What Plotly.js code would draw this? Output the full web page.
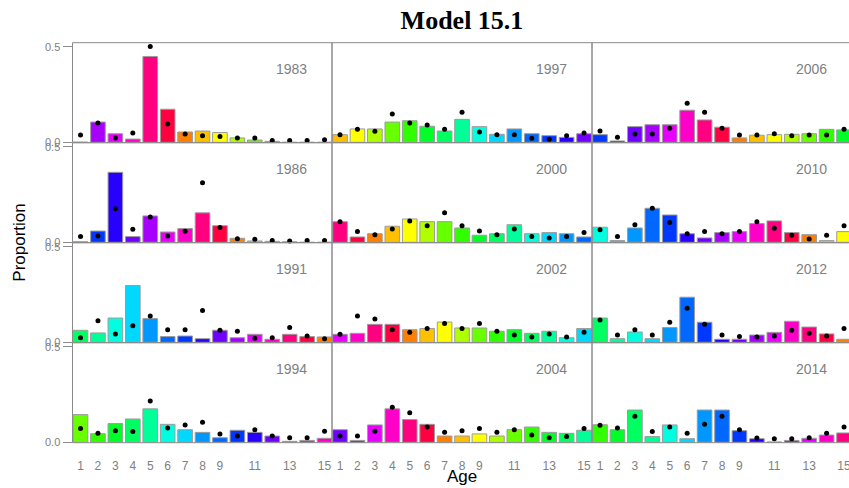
<!DOCTYPE html>
<html>
<head>
<meta charset="utf-8">
<script src="https://cdn.plot.ly/plotly-3.0.1.min.js"></script>
<style>
  html, body { margin: 0; padding: 0; background: #ffffff; overflow: hidden; }
  #chart { width: 849px; height: 488px; }
</style>
</head>
<body>
<div id="chart"></div>
<script>
// Ages on the x axis and the tick labels shown under the bottom row
const ages = [1, 2, 3, 4, 5, 6, 7, 8, 9, 10, 11, 12, 13, 14, 15];
const tickAges = [1, 2, 3, 4, 5, 6, 7, 8, 9, 11, 13, 15];
const tickLabels = ['1', '2', '3', '4', '5', '6', '7', '8', '9', '11', '13', '15'];

// Panel years, row by row (left to right, top to bottom)
const panelYears = [1983, 1997, 2006, 1986, 2000, 2010, 1991, 2002, 2012, 1994, 2004, 2014];

// Observed proportion at age (bars) and model proportion at age (points)
const obs1983 = [0.001, 0.106, 0.045, 0.017, 0.449, 0.173, 0.054, 0.059, 0.051, 0.023, 0.012, 0.005, 0, 0, 0];
const fit1983 = [0.038, 0.101, 0.023, 0.049, 0.501, 0.096, 0.044, 0.035, 0.030, 0.023, 0.023, 0.009, 0.009, 0.009, 0.014];
const obs1997 = [0.040, 0.070, 0.070, 0.106, 0.113, 0.084, 0.059, 0.120, 0.082, 0.042, 0.070, 0.045, 0.035, 0.026, 0.045];
const fit1997 = [0.040, 0.068, 0.058, 0.148, 0.101, 0.091, 0.068, 0.157, 0.054, 0.040, 0.040, 0.021, 0.016, 0.035, 0.049];
const obs2006 = [0.040, 0.007, 0.082, 0.092, 0.092, 0.168, 0.117, 0.079, 0.023, 0.037, 0.040, 0.042, 0.045, 0.068, 0.065];
const fit2006 = [0.059, 0.026, 0.044, 0.044, 0.073, 0.204, 0.157, 0.073, 0.038, 0.038, 0.045, 0.035, 0.038, 0.038, 0.068];
const obs1986 = [0.003, 0.059, 0.366, 0.030, 0.138, 0.054, 0.072, 0.154, 0.087, 0.021, 0.007, 0.005, 0.003, 0, 0];
const fit1986 = [0.030, 0.033, 0.175, 0.068, 0.133, 0.033, 0.058, 0.312, 0.077, 0.019, 0.016, 0.010, 0.007, 0.010, 0.010];
const obs2000 = [0.108, 0.028, 0.045, 0.084, 0.122, 0.108, 0.108, 0.075, 0.037, 0.045, 0.092, 0.045, 0.051, 0.045, 0.028];
const fit2000 = [0.108, 0.056, 0.040, 0.070, 0.112, 0.087, 0.155, 0.087, 0.059, 0.040, 0.070, 0.031, 0.023, 0.031, 0.051];
const obs2010 = [0.079, 0.009, 0.075, 0.178, 0.143, 0.045, 0.023, 0.051, 0.056, 0.098, 0.112, 0.051, 0.040, 0.009, 0.056];
const fit2010 = [0.066, 0.031, 0.092, 0.178, 0.103, 0.045, 0.056, 0.045, 0.056, 0.108, 0.073, 0.037, 0.017, 0.037, 0.087];
const obs1991 = [0.063, 0.049, 0.127, 0.297, 0.124, 0.030, 0.033, 0.019, 0.063, 0.024, 0.042, 0.016, 0.042, 0.030, 0.028];
const fit1991 = [0.024, 0.113, 0.044, 0.086, 0.138, 0.066, 0.066, 0.166, 0.063, 0.058, 0.021, 0.024, 0.077, 0.033, 0.019];
const obs2002 = [0.042, 0.047, 0.094, 0.094, 0.066, 0.072, 0.106, 0.075, 0.075, 0.058, 0.066, 0.047, 0.058, 0.024, 0.072];
const fit2002 = [0.042, 0.138, 0.122, 0.066, 0.052, 0.072, 0.099, 0.072, 0.099, 0.058, 0.038, 0.028, 0.044, 0.028, 0.052];
const obs2012 = [0.127, 0.019, 0.054, 0.019, 0.077, 0.236, 0.105, 0.016, 0.016, 0.038, 0.052, 0.110, 0.080, 0.044, 0.016];
const fit2012 = [0.117, 0.038, 0.066, 0.038, 0.105, 0.178, 0.094, 0.038, 0.031, 0.028, 0.033, 0.063, 0.047, 0.033, 0.072];
const obs1994 = [0.145, 0.045, 0.098, 0.122, 0.175, 0.094, 0.066, 0.052, 0.024, 0.063, 0.052, 0.033, 0.005, 0.010, 0.021];
const fit1994 = [0.072, 0.047, 0.061, 0.056, 0.216, 0.075, 0.091, 0.105, 0.044, 0.033, 0.066, 0.033, 0.024, 0.024, 0.058];
const obs2004 = [0.066, 0.010, 0.091, 0.175, 0.119, 0.094, 0.033, 0.033, 0.044, 0.033, 0.066, 0.080, 0.052, 0.047, 0.063];
const fit2004 = [0.033, 0.033, 0.058, 0.183, 0.155, 0.080, 0.052, 0.061, 0.072, 0.052, 0.066, 0.038, 0.024, 0.030, 0.072];
const obs2014 = [0.092, 0.066, 0.169, 0.030, 0.091, 0.019, 0.169, 0.169, 0.061, 0.019, 0.002, 0.010, 0.021, 0.038, 0.049];
const fit2014 = [0.089, 0.075, 0.136, 0.056, 0.080, 0.047, 0.094, 0.136, 0.066, 0.023, 0.019, 0.019, 0.024, 0.047, 0.080];

const obsByYear = {1983: obs1983, 1997: obs1997, 2006: obs2006, 1986: obs1986, 2000: obs2000, 2010: obs2010,
                   1991: obs1991, 2002: obs2002, 2012: obs2012, 1994: obs1994, 2004: obs2004, 2014: obs2014};
const fitByYear = {1983: fit1983, 1997: fit1997, 2006: fit2006, 1986: fit1986, 2000: fit2000, 2010: fit2010,
                   1991: fit1991, 2002: fit2002, 2012: fit2012, 1994: fit1994, 2004: fit2004, 2014: fit2014};

// Year-class colours: a 21-step rainbow, cohorts 1976..1996, repeating every 21 years
const cohortColours = [
  '#FF8000', '#FF0040', '#FF0080', '#FF00C8', '#E800FF', '#A800FF', '#7000FF',
  '#2800FF', '#0038FF', '#0068FF', '#0098FF', '#00D8FF', '#00FFE0', '#00FF98',
  '#00FF60', '#00FF28', '#30FF00', '#68FF00', '#B0FF00', '#FFFF00', '#FFC000'
];
function cohortColour(cohort) {
  const k = (((cohort - 1976) % 21) + 21) % 21;
  return cohortColours[k];
}

// Panel grid geometry, in pixels of the 849 x 488 page
const W = 849, H = 488;
const colLeft = [72.5, 332, 592];
const colRight = [332, 592, 849];
const rowTop = [42.7, 142.7, 242.7, 342.7];
const rowHeight = 100;
const pxPerAge = 17.43;
const ageAtLeft = 0.54;
const yRange = [-0.002, 0.521];

const grey = '#8a8a8a';
const textGrey = '#7f7f7f';
const font = 'Liberation Sans, Arial, sans-serif';

const traces = [];
const layout = {
  width: W, height: H,
  margin: {l: 0, r: 0, t: 0, b: 0},
  paper_bgcolor: '#ffffff',
  plot_bgcolor: 'rgba(0,0,0,0)',
  showlegend: false,
  bargap: 0,
  title: {
    text: '<b>Model 15.1</b>',
    font: {family: 'Liberation Serif, Times New Roman, serif', size: 26, color: '#000000'},
    x: 462 / W, xanchor: 'center', xref: 'paper',
    y: 1 - 20 / H, yanchor: 'middle'
  },
  shapes: [],
  annotations: []
};

panelYears.forEach((year, i) => {
  const row = Math.floor(i / 3), col = i % 3;
  const n = i + 1;
  const xa = n === 1 ? 'x' : 'x' + n;
  const ya = n === 1 ? 'y' : 'y' + n;
  const xKey = n === 1 ? 'xaxis' : 'xaxis' + n;
  const yKey = n === 1 ? 'yaxis' : 'yaxis' + n;

  const left = colLeft[col], right = colRight[col];
  const top = rowTop[row], bottom = top + rowHeight;

  layout[xKey] = {
    domain: [left / W, right / W],
    range: [ageAtLeft, ageAtLeft + (right - left) / pxPerAge],
    anchor: ya,
    showgrid: false, zeroline: false, showline: false,
    showticklabels: row === 3,
    ticklabeloverflow: 'allow',
    tickmode: 'array', tickvals: tickAges, ticktext: tickLabels,
    ticks: row === 3 ? 'outside' : '', ticklen: 12, tickcolor: 'rgba(0,0,0,0)',
    tickfont: {family: font, size: 12, color: textGrey}
  };
  layout[yKey] = {
    domain: [1 - bottom / H, 1 - top / H],
    range: yRange,
    anchor: xa,
    showgrid: false, zeroline: false, showline: false,
    showticklabels: col === 0,
    tickmode: 'array', tickvals: [0, 0.5], ticktext: ['0.0', '0.5'],
    ticks: col === 0 ? 'outside' : '', ticklen: 9, tickwidth: 1, tickcolor: grey,
    tickfont: {family: font, size: 11, color: textGrey}
  };

  traces.push({
    type: 'bar', x: ages, y: obsByYear[year], xaxis: xa, yaxis: ya,
    width: 0.84,
    marker: {color: ages.map(a => cohortColour(year - a)), line: {color: '#9c9c9c', width: 1}},
    hoverinfo: 'skip'
  });
  traces.push({
    type: 'scatter', mode: 'markers', x: ages, y: fitByYear[year], xaxis: xa, yaxis: ya,
    marker: {color: '#000000', size: 5},
    cliponaxis: false,
    hoverinfo: 'skip'
  });

  // Panel frame
  layout.shapes.push({
    type: 'rect', xref: 'paper', yref: 'paper', layer: 'above',
    x0: left / W, x1: (col === 2 ? right + 3 : right) / W,
    y0: 1 - bottom / H, y1: 1 - top / H,
    line: {color: grey, width: 1}
  });

  // Year label in the upper right of each panel
  const labelRight = (col === 2 ? 852 : right) - 23;
  layout.annotations.push({
    text: String(year), xref: 'paper', yref: 'paper',
    x: labelRight / W, xanchor: 'right',
    y: 1 - (top + 26) / H, yanchor: 'middle',
    showarrow: false,
    font: {family: font, size: 14, color: textGrey}
  });
});

// Shared axis titles
layout.annotations.push({
  text: 'Age', xref: 'paper', yref: 'paper',
  x: 462 / W, xanchor: 'center', y: 1 - 476 / H, yanchor: 'middle',
  showarrow: false, font: {family: font, size: 17, color: '#000000'}
});
layout.annotations.push({
  text: 'Proportion', xref: 'paper', yref: 'paper',
  x: 20 / W, xanchor: 'center', y: 1 - 242.7 / H, yanchor: 'middle',
  textangle: -90,
  showarrow: false, font: {family: font, size: 17, color: '#000000'}
});

Plotly.newPlot('chart', traces, layout, {staticPlot: true, displayModeBar: false});
</script>
</body>
</html>
